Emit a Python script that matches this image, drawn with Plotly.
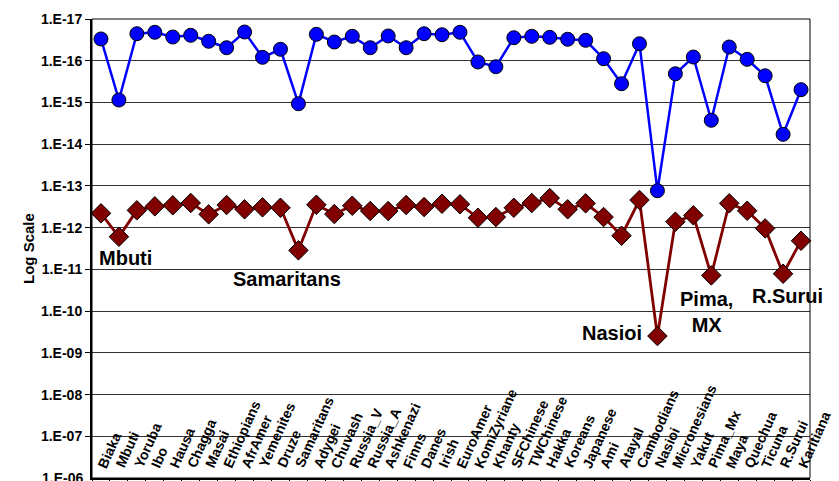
import plotly.graph_objects as go

categories = ["Biaka", "Mbuti", "Yoruba", "Ibo", "Hausa", "Chagga", "Masai", "Ethiopians",
              "AfrAmer", "Yemenites", "Druze", "Samaritans", "Adygei", "Chuvash", "Russia_V",
              "Russia_A", "Ashkenazi", "Finns", "Danes", "Irish", "EuroAmer", "KomiZyriane",
              "Khanty", "SFChinese", "TWChinese", "Hakka", "Koreans", "Japanese", "Ami",
              "Atayal", "Cambodians", "Nasioi", "Micronesians", "Yakut", "Pima_Mx", "Maya",
              "Quechua", "Ticuna", "R.Surui", "Karitiana"]

blue_values = [3.01e-17, 8.73e-16, 2.25e-17, 2.08e-17, 2.70e-17, 2.46e-17, 3.42e-17, 4.88e-17,
               2.05e-17, 8.28e-17, 5.32e-17, 1.07e-15, 2.33e-17, 3.56e-17, 2.60e-17,
               4.88e-17, 2.55e-17, 4.88e-17, 2.25e-17, 2.38e-17, 2.08e-17, 1.07e-16,
               1.39e-16, 2.81e-17, 2.60e-17, 2.75e-17, 3.06e-17, 3.24e-17, 8.93e-17,
               3.55e-16, 3.91e-17, 1.30e-13, 2.05e-16, 8.15e-17, 2.67e-15, 4.69e-17,
               9.25e-17, 2.29e-16, 5.80e-15, 4.94e-16]

red_values = [4.53e-13, 1.65e-12, 3.84e-13, 3.08e-13, 2.91e-13, 2.56e-13, 4.79e-13, 2.86e-13,
              3.63e-13, 3.25e-13, 3.33e-13, 3.49e-12, 2.82e-13, 4.71e-13, 2.98e-13,
              3.99e-13, 3.99e-13, 2.86e-13, 3.20e-13, 2.67e-13, 2.75e-13, 5.78e-13,
              5.56e-13, 3.33e-13, 2.56e-13, 1.95e-13, 3.63e-13, 2.61e-13, 5.56e-13,
              1.56e-12, 2.17e-13, 3.94e-10, 7.19e-13, 5.06e-13, 1.39e-11, 2.61e-13,
              3.93e-13, 1.04e-12, 1.27e-11, 2.06e-12]

tick_exponents = list(range(-17, -5))
tick_values = [10.0 ** e for e in tick_exponents]
tick_labels = ["1.E-%02d" % (-e) for e in tick_exponents]

callouts = [("Mbuti", 1.39, -11.27), ("Samaritans", 10.39, -10.77), ("Nasioi", 28.47, -9.475),
            ("Pima,<br>MX", 33.76, -9.99), ("R.Surui", 38.27, -10.36)]

FONT = "Liberation Sans, Arial, sans-serif"
xs = list(range(len(categories)))

fig = go.Figure()
fig.add_trace(go.Scatter(
    x=xs, y=blue_values, mode="lines+markers",
    line=dict(color="#0000FF", width=2.5),
    marker=dict(symbol="circle", size=14, color="#0000FF", line=dict(color="black", width=1)),
    showlegend=False, cliponaxis=False))
fig.add_trace(go.Scatter(
    x=xs, y=red_values, mode="lines+markers",
    line=dict(color="#800000", width=2.8),
    marker=dict(symbol="diamond", size=15, color="#800000", line=dict(color="black", width=1)),
    showlegend=False, cliponaxis=False))

annotations = []
for i, name in enumerate(categories):
    annotations.append(dict(
        x=i, y=0.014, xref="x", yref="paper", text=name, showarrow=False,
        textangle=-66, xanchor="left", yanchor="bottom", xshift=-8,
        font=dict(family=FONT, size=14, color="black", weight="bold"),
        borderpad=0))
for text, cx, cy in callouts:
    annotations.append(dict(
        x=cx, y=cy, xref="x", yref="y", text=text, showarrow=False,
        xanchor="center", yanchor="middle",
        font=dict(family=FONT, size=20, color="black", weight="bold")))
annotations.append(dict(
    x=(18 - 92) / 718.0, y=0.5, xref="paper", yref="paper", text="Log Scale", showarrow=False,
    textangle=-90, font=dict(family=FONT, size=15, color="black", weight="bold")))
# lowest tick label, which plotly drops because it overflows the page edge
annotations.append(dict(
    x=0, y=0, xref="paper", yref="paper", text=tick_labels[-1], showarrow=False,
    xanchor="right", yanchor="middle", xshift=-8, borderpad=0,
    font=dict(family=FONT, size=14, color="black", weight="bold")))

fig.update_layout(
    width=839, height=481,
    margin=dict(l=92, r=29, t=19, b=3, autoexpand=False),
    paper_bgcolor="white", plot_bgcolor="white",
    annotations=annotations,
    font=dict(family=FONT, color="black"),
    shapes=[dict(type="rect", xref="paper", yref="paper", x0=0, x1=1, y0=0, y1=1,
                 line=dict(color="black", width=1), layer="above")],
)
fig.update_xaxes(
    type="linear", range=[-0.5, len(categories) - 0.5], automargin=False,
    tickvals=[i - 0.5 for i in range(len(categories) + 1)], ticktext=[""] * (len(categories) + 1),
    showticklabels=False, ticks="outside", ticklen=5, tickcolor="black", tickwidth=1,
    showgrid=False, zeroline=False, showline=True, linecolor="black", linewidth=2)
fig.update_yaxes(
    type="log", range=[-6.003, -17], automargin=False, ticklabeloverflow="allow",
    tickvals=tick_values, ticktext=tick_labels,
    tickfont=dict(family=FONT, size=14, color="black", weight="bold"),
    ticks="outside", ticklen=5, tickcolor="black", tickwidth=1,
    showgrid=True, gridcolor="#333333", gridwidth=1,
    zeroline=False, showline=True, linecolor="black", linewidth=2)

fig.write_html("out.html", config={"displayModeBar": False},
               post_script="document.body.style.margin='0px';document.body.style.overflow='hidden';")
